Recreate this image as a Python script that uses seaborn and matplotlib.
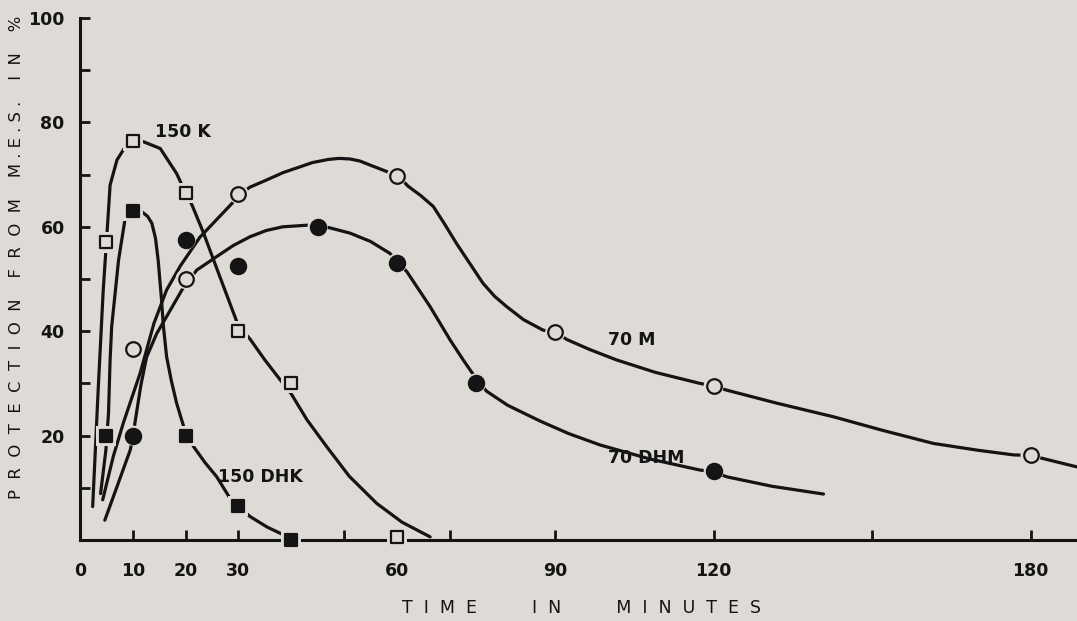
import numpy as np
import pandas as pd
import seaborn as sns
import matplotlib.pyplot as plt

sns.set_theme(style="ticks")
plt.rcParams['font.family'] = ['DejaVu Sans']

bg = '#dedbd6'
ink = '#141414'

# measured points (time in minutes, protection in %)
k_t = [5, 10, 20, 30, 40, 60]
k_v = [57, 76.5, 66.5, 40, 30, 0.5]
dhk_t = [5, 10, 20, 30, 40]
dhk_v = [20, 63, 20, 6.5, 0]
m_t = [10, 20, 30, 60, 90, 120, 180]
m_v = [36.5, 50, 66.3, 69.7, 39.8, 29.5, 16.2]
dhm_t = [10, 20, 30, 45, 60, 75, 120]
dhm_v = [20, 57.5, 52.5, 60, 53, 30, 13.2]

# hand drawn curves
k_ct = [2.4, 3.5, 4.4, 5, 5.7, 7, 8.5, 10, 12, 15.2, 18.3, 20, 21.2, 23.4, 26.5,
        30, 32.2, 35, 37.9, 40, 43, 46.7, 51, 56.2, 61, 66.3]
k_cv = [6.4, 30, 47.9, 57, 68, 72.8, 75.2, 76.5, 76.3, 75, 70.2, 66.5, 64.2, 58.8, 50.4,
        41, 38.5, 34.5, 30.7, 28, 23, 17.9, 12.2, 7, 3.4, 0.6]
dhk_ct = [3.9, 4.9, 5.4, 5.7, 6, 7.3, 8.5, 10, 11.7, 12.8, 13.6, 14.3, 14.8, 15.4, 15.8,
          16.4, 17.3, 18.3, 20, 21.5, 23.7, 25.9, 28.4, 30, 32.2, 35.4, 38.5, 40]
dhk_cv = [8.9, 17.2, 24.3, 34.5, 40.9, 53.6, 61.3, 63, 62.9, 62, 60.7, 57.8, 53.6, 46.5, 40.9,
          35.1, 30.5, 26.2, 20.5, 17.9, 14.8, 12.1, 8, 6.4, 4.5, 2.5, 1, 0]
m_ct = [4.3, 6.3, 8.2, 11.4, 14, 16.4, 19, 22.7, 28.8, 30.3, 32.2, 35.4, 38.5, 41.7, 44,
        47, 49, 51.1, 53, 55, 57.8, 60.3, 62.1, 64.5, 66.9, 69, 71.3, 73.8, 76.3, 78.5,
        80.8, 84, 87.7, 90, 92.2, 96.5, 101.6, 109, 117.4, 120, 122.5, 132, 142.7, 152,
        161.6, 170, 176.8, 180, 188.8]
m_cv = [7.7, 16, 22.4, 32, 41.5, 47.9, 52.5, 58, 64.5, 66.3, 67.6, 69, 70.4, 71.5, 72.3,
        72.9, 73.1, 73, 72.6, 71.8, 70.7, 69.7, 67.8, 66, 63.9, 60.6, 56.8, 53, 49.2, 46.7,
        44.7, 42.2, 40.2, 39.8, 38.4, 36.5, 34.5, 32.1, 30, 29.5, 28.7, 26.2, 23.6, 21,
        18.5, 17.2, 16.3, 16.2, 14]
dhm_ct = [4.7, 7, 9.5, 10.1, 10.4, 11.5, 12.6, 14.5, 16.4, 19.3, 22.1, 25.9, 29, 32.2,
          35.3, 38.4, 42.9, 45.1, 47.3, 51.1, 55, 58.7, 60.3, 61.9, 64, 66.3, 68.2, 70.1,
          72.7, 75.3, 77, 81, 87.1, 92.5, 98.5, 108, 117.4, 119.8, 122.5, 131, 140.8]
dhm_cv = [3.8, 10.2, 17.2, 20, 22.4, 29.5, 35, 39.5, 42.8, 47.9, 51.7, 54.3, 56.4, 58.1,
          59.3, 60, 60.3, 60.2, 59.8, 58.8, 57.2, 54.9, 53, 51.4, 48.2, 44.7, 41.5, 38.3,
          34.3, 30.5, 28.5, 25.8, 22.8, 20.4, 18.2, 15.5, 13.4, 13.1, 12.1, 10.3, 8.8]

x_major = [0, 10, 20, 30, 60, 90, 120, 180]
x_minor = [40, 50, 70, 150]
y_major = [20, 40, 60, 80, 100]
y_minor = [10, 30, 50, 70, 90]

fig = plt.figure(figsize=(10.77, 6.21), dpi=100, facecolor=bg)
ax = fig.add_axes([80 / 1077, 81 / 621, 997 / 1077, 522 / 621], facecolor=bg)

for ct, cv in [(k_ct, k_cv), (dhk_ct, dhk_cv), (m_ct, m_cv), (dhm_ct, dhm_cv)]:
    sns.lineplot(x=ct, y=cv, sort=False, estimator=None, color=ink, lw=2.3,
                 ax=ax, zorder=2, solid_capstyle='round', solid_joinstyle='round')

# background halos give the broken-line look next to each symbol
for t, v, mk in [(k_t, k_v, 's'), (dhk_t, dhk_v, 's'), (m_t, m_v, 'o'), (dhm_t, dhm_v, 'o')]:
    sns.scatterplot(x=t, y=v, marker=mk, s=210, color=bg, edgecolor='none',
                    ax=ax, zorder=3, clip_on=False)

sns.scatterplot(x=k_t, y=k_v, marker='s', s=85, color=bg, edgecolor=ink,
                linewidth=1.6, ax=ax, zorder=4, clip_on=False)
sns.scatterplot(x=dhk_t, y=dhk_v, marker='s', s=85, color=ink, edgecolor=ink,
                linewidth=1.6, ax=ax, zorder=4, clip_on=False)
sns.scatterplot(x=m_t, y=m_v, marker='o', s=110, color=bg, edgecolor=ink,
                linewidth=1.6, ax=ax, zorder=4, clip_on=False)
sns.scatterplot(x=dhm_t, y=dhm_v, marker='o', s=120, color=ink, edgecolor=ink,
                linewidth=1.6, ax=ax, zorder=4, clip_on=False)

txt = dict(fontsize=12.5, fontweight='bold', color=ink, va='center', ha='left')
ax.text(14.2, 78.2, '150 K', **txt)
ax.text(26.1, 12.1, '150 DHK', **txt)
ax.text(100, 38.3, '70 M', **txt)
ax.text(100, 15.7, '70 DHM', **txt)

ax.set_xlim(0, 188.8)
ax.set_ylim(0, 100)
sns.despine(ax=ax)
for s in ['left', 'bottom']:
    ax.spines[s].set_color(ink)
    ax.spines[s].set_linewidth(2.2)

ax.set_xticks(x_major)
ax.set_xticks(x_minor, minor=True)
ax.set_yticks(y_major)
ax.set_yticks(y_minor, minor=True)
ax.tick_params(which='both', direction='in', length=7, width=2, color=ink)
ax.tick_params(axis='x', pad=16, labelsize=12.5, labelcolor=ink)
ax.tick_params(axis='y', pad=11, labelsize=12.5, labelcolor=ink)
for lab in ax.get_xticklabels() + ax.get_yticklabels():
    lab.set_fontweight('bold')

fig.text(17 / 1077, 0.586, 'P  R  O  T  E  C  T  I  O  N    F  R  O  M    M . E . S .    I  N    %',
         rotation=90, ha='center', va='center', fontsize=11.8, color=ink)
fig.text(582 / 1077, 13 / 621, 'T  I  M  E          I  N          M  I  N  U  T  E  S',
         ha='center', va='center', fontsize=12.5, color=ink)

fig.savefig('out.png', dpi=100, facecolor=bg)
